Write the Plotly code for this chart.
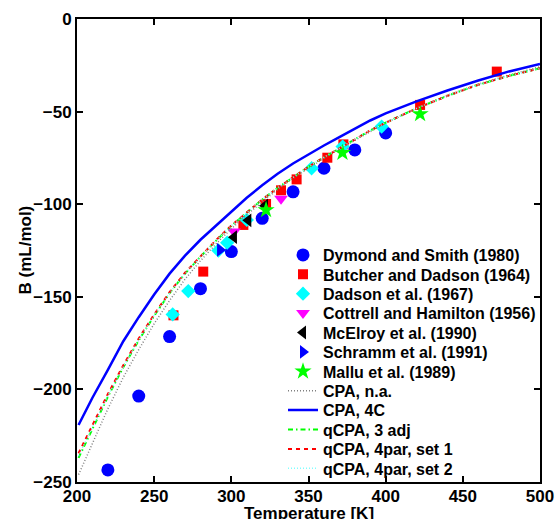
import plotly.graph_objects as go

# ---------------- data ----------------
dymond_T = [220, 240, 260, 280, 300, 320, 340, 360, 380, 400]
dymond_B = [-243.5, -203.6, -171.5, -145.6, -125.6, -107.6, -93.3, -80.6, -70.7, -61.5]

butcher_T = [262.5, 281.8, 307.8, 322.5, 332.2, 342.3, 362.2, 372.6, 422.3, 472.0]
butcher_B = [-160.0, -136.4, -111.2, -99.9, -92.5, -86.6, -74.9, -67.7, -46.4, -28.4]

dadson_T = [262.0, 272.1, 291.6, 297.3, 310.0, 352.0, 372.1, 397.4]
dadson_B = [-159.5, -146.9, -125.0, -120.8, -108.5, -80.6, -68.9, -58.1]

cottrell_T = [301.7, 332.2]
cottrell_B = [-114.8, -97.0]

mcelroy_T = [301.7, 311.0, 321.8]
mcelroy_B = [-117.8, -108.7, -100.8]

schramm_T = [292.7]
schramm_B = [-124.7]

mallu_T = [322.5, 372.0, 422.3]
mallu_B = [-103.1, -72.2, -51.3]

curve_T = [201, 210, 220, 230, 240, 250, 260, 270, 280, 290, 300, 310, 320,
           330, 340, 350, 360, 370, 380, 390, 400, 420, 440, 460, 480, 500]
cpa_na_B = [-246.0, -229.0, -210.5, -193.5, -178.5, -164.5, -152.0, -140.5, -130.5,
            -121.5, -113.2, -105.7, -98.6, -92.0, -86.0, -80.4, -75.2, -70.2, -65.5,
            -60.6, -56.2, -48.2, -41.2, -35.2, -30.2, -25.8]
cpa_4c_B = [-219.2, -204.5, -189.5, -174.0, -161.0, -148.8, -137.5, -127.8, -119.2,
            -111.5, -104.0, -96.5, -89.8, -83.6, -78.0, -73.0, -68.3, -63.8, -59.2,
            -54.8, -51.0, -44.5, -38.6, -33.2, -28.3, -24.3]
qcpa_3adj_B = [-237.0, -221.5, -204.0, -188.0, -173.5, -160.3, -148.0, -137.5, -128.3,
               -119.8, -111.7, -104.5, -97.5, -91.2, -85.3, -79.8, -74.7, -69.8, -65.2,
               -60.2, -56.0, -48.3, -41.5, -35.5, -30.7, -26.6]
qcpa_set1_B = [-234.5, -219.5, -202.5, -187.0, -172.5, -159.5, -147.5, -137.0, -128.0,
               -119.5, -111.5, -104.5, -97.5, -91.2, -85.3, -79.8, -74.7, -69.8, -65.2,
               -60.2, -56.0, -48.3, -41.5, -35.5, -30.7, -26.6]
qcpa_set2_B = [-236.0, -220.5, -203.5, -187.8, -173.2, -160.0, -148.0, -137.3, -128.2,
               -119.7, -111.6, -104.5, -97.5, -91.2, -85.3, -79.8, -74.7, -69.8, -65.2,
               -60.2, -56.0, -48.3, -41.5, -35.5, -30.7, -26.6]

x_ticks = [200, 250, 300, 350, 400, 450, 500]
y_ticks = [-250, -200, -150, -100, -50, 0]
x_title = "Temperature [K]"
y_title = "B (mL/mol)"

# ---------------- figure ----------------
FONT = "Liberation Sans, Arial, sans-serif"
fig = go.Figure()

markers = [
    ("Dymond and Smith (1980)", dymond_T, dymond_B, "circle", "#0000ff", 13),
    ("Butcher and Dadson (1964)", butcher_T, butcher_B, "square", "#ff0000", 10),
    ("Dadson et al. (1967)", dadson_T, dadson_B, "diamond", "#00ffff", 11),
    ("Cottrell and Hamilton (1956)", cottrell_T, cottrell_B, "triangle-down", "#ff00ff", 12),
    ("McElroy et al. (1990)", mcelroy_T, mcelroy_B, "triangle-left", "#000000", 12),
    ("Schramm et al. (1991)", schramm_T, schramm_B, "triangle-right", "#0000ff", 12),
    ("Mallu et al. (1989)", mallu_T, mallu_B, "star", "#00ff00", 13),
]
lines = [
    ("CPA, n.a.", cpa_na_B, "#808080", "1px,2px", 1.5),
    ("CPA, 4C", cpa_4c_B, "#0000ff", "solid", 2.5),
    ("qCPA, 3 adj", qcpa_3adj_B, "#00ff00", "5px,3px,1.5px,3px", 2),
    ("qCPA, 4par, set 1", qcpa_set1_B, "#ff0000", "4px,4px", 2),
    ("qCPA, 4par, set 2", qcpa_set2_B, "#80ffff", "1px,2px", 1.5),
]

legend_keys = ["legend"] + [f"legend{i}" for i in range(2, 13)]
idx = 0
for name, xs, ys, sym, col, sz in markers:
    fig.add_trace(go.Scatter(x=xs, y=ys, mode="markers", name=name,
                             marker=dict(symbol=sym, color=col, size=sz, line=dict(width=0)),
                             legend=legend_keys[idx]))
    idx += 1
for name, ys, col, dash, w in lines:
    fig.add_trace(go.Scatter(x=curve_T, y=ys, mode="lines", name=name,
                             line=dict(color=col, dash=dash, width=w),
                             legend=legend_keys[idx]))
    idx += 1

# plot area in pixels
L, R, T, B = 77, 540, 19, 482
W, H = 555, 519
PW, PH = R - L, B - T
legend_left_px = 283
row0, row_step = 255, 19.4
legend_layout = {}
for i, key in enumerate(legend_keys):
    yc = row0 + i * row_step
    legend_layout[key] = dict(
        x=(legend_left_px - L) / PW, y=(B - yc) / PH,
        xanchor="left", yanchor="middle", xref="paper", yref="paper",
        bgcolor="rgba(0,0,0,0)", borderwidth=0,
        font=dict(family=FONT, size=16, color="black", weight="bold"),
        itemwidth=30, tracegroupgap=0,
    )

axis_common = dict(
    showline=True, linecolor="black", linewidth=2, mirror="ticks",
    ticks="inside", ticklen=6, tickwidth=2, tickcolor="black",
    showgrid=False, zeroline=False,
    tickfont=dict(family=FONT, size=17, color="black", weight="bold"),
)

title_font = dict(family=FONT, size=17, color="black", weight="bold")
fig.update_layout(
    width=W, height=H,
    margin=dict(l=L, r=W - R, t=T, b=H - B, autoexpand=False),
    paper_bgcolor="white", plot_bgcolor="white",
    showlegend=True,
    xaxis=dict(range=[200, 500], tickvals=x_ticks, automargin=False,
               ticklabelstandoff=-2, **axis_common),
    yaxis=dict(range=[-250, 0], tickvals=y_ticks, automargin=False, **axis_common),
    annotations=[
        dict(text=x_title, xref="paper", yref="paper", x=0.5, y=(B - 513) / PH,
             xanchor="center", yanchor="middle", showarrow=False, font=title_font),
        dict(text=y_title, xref="paper", yref="paper", x=(25 - L) / PW, y=0.5,
             xanchor="center", yanchor="middle", showarrow=False, textangle=-90,
             font=title_font),
    ],
    **legend_layout,
)

fig.write_html("out.html")
